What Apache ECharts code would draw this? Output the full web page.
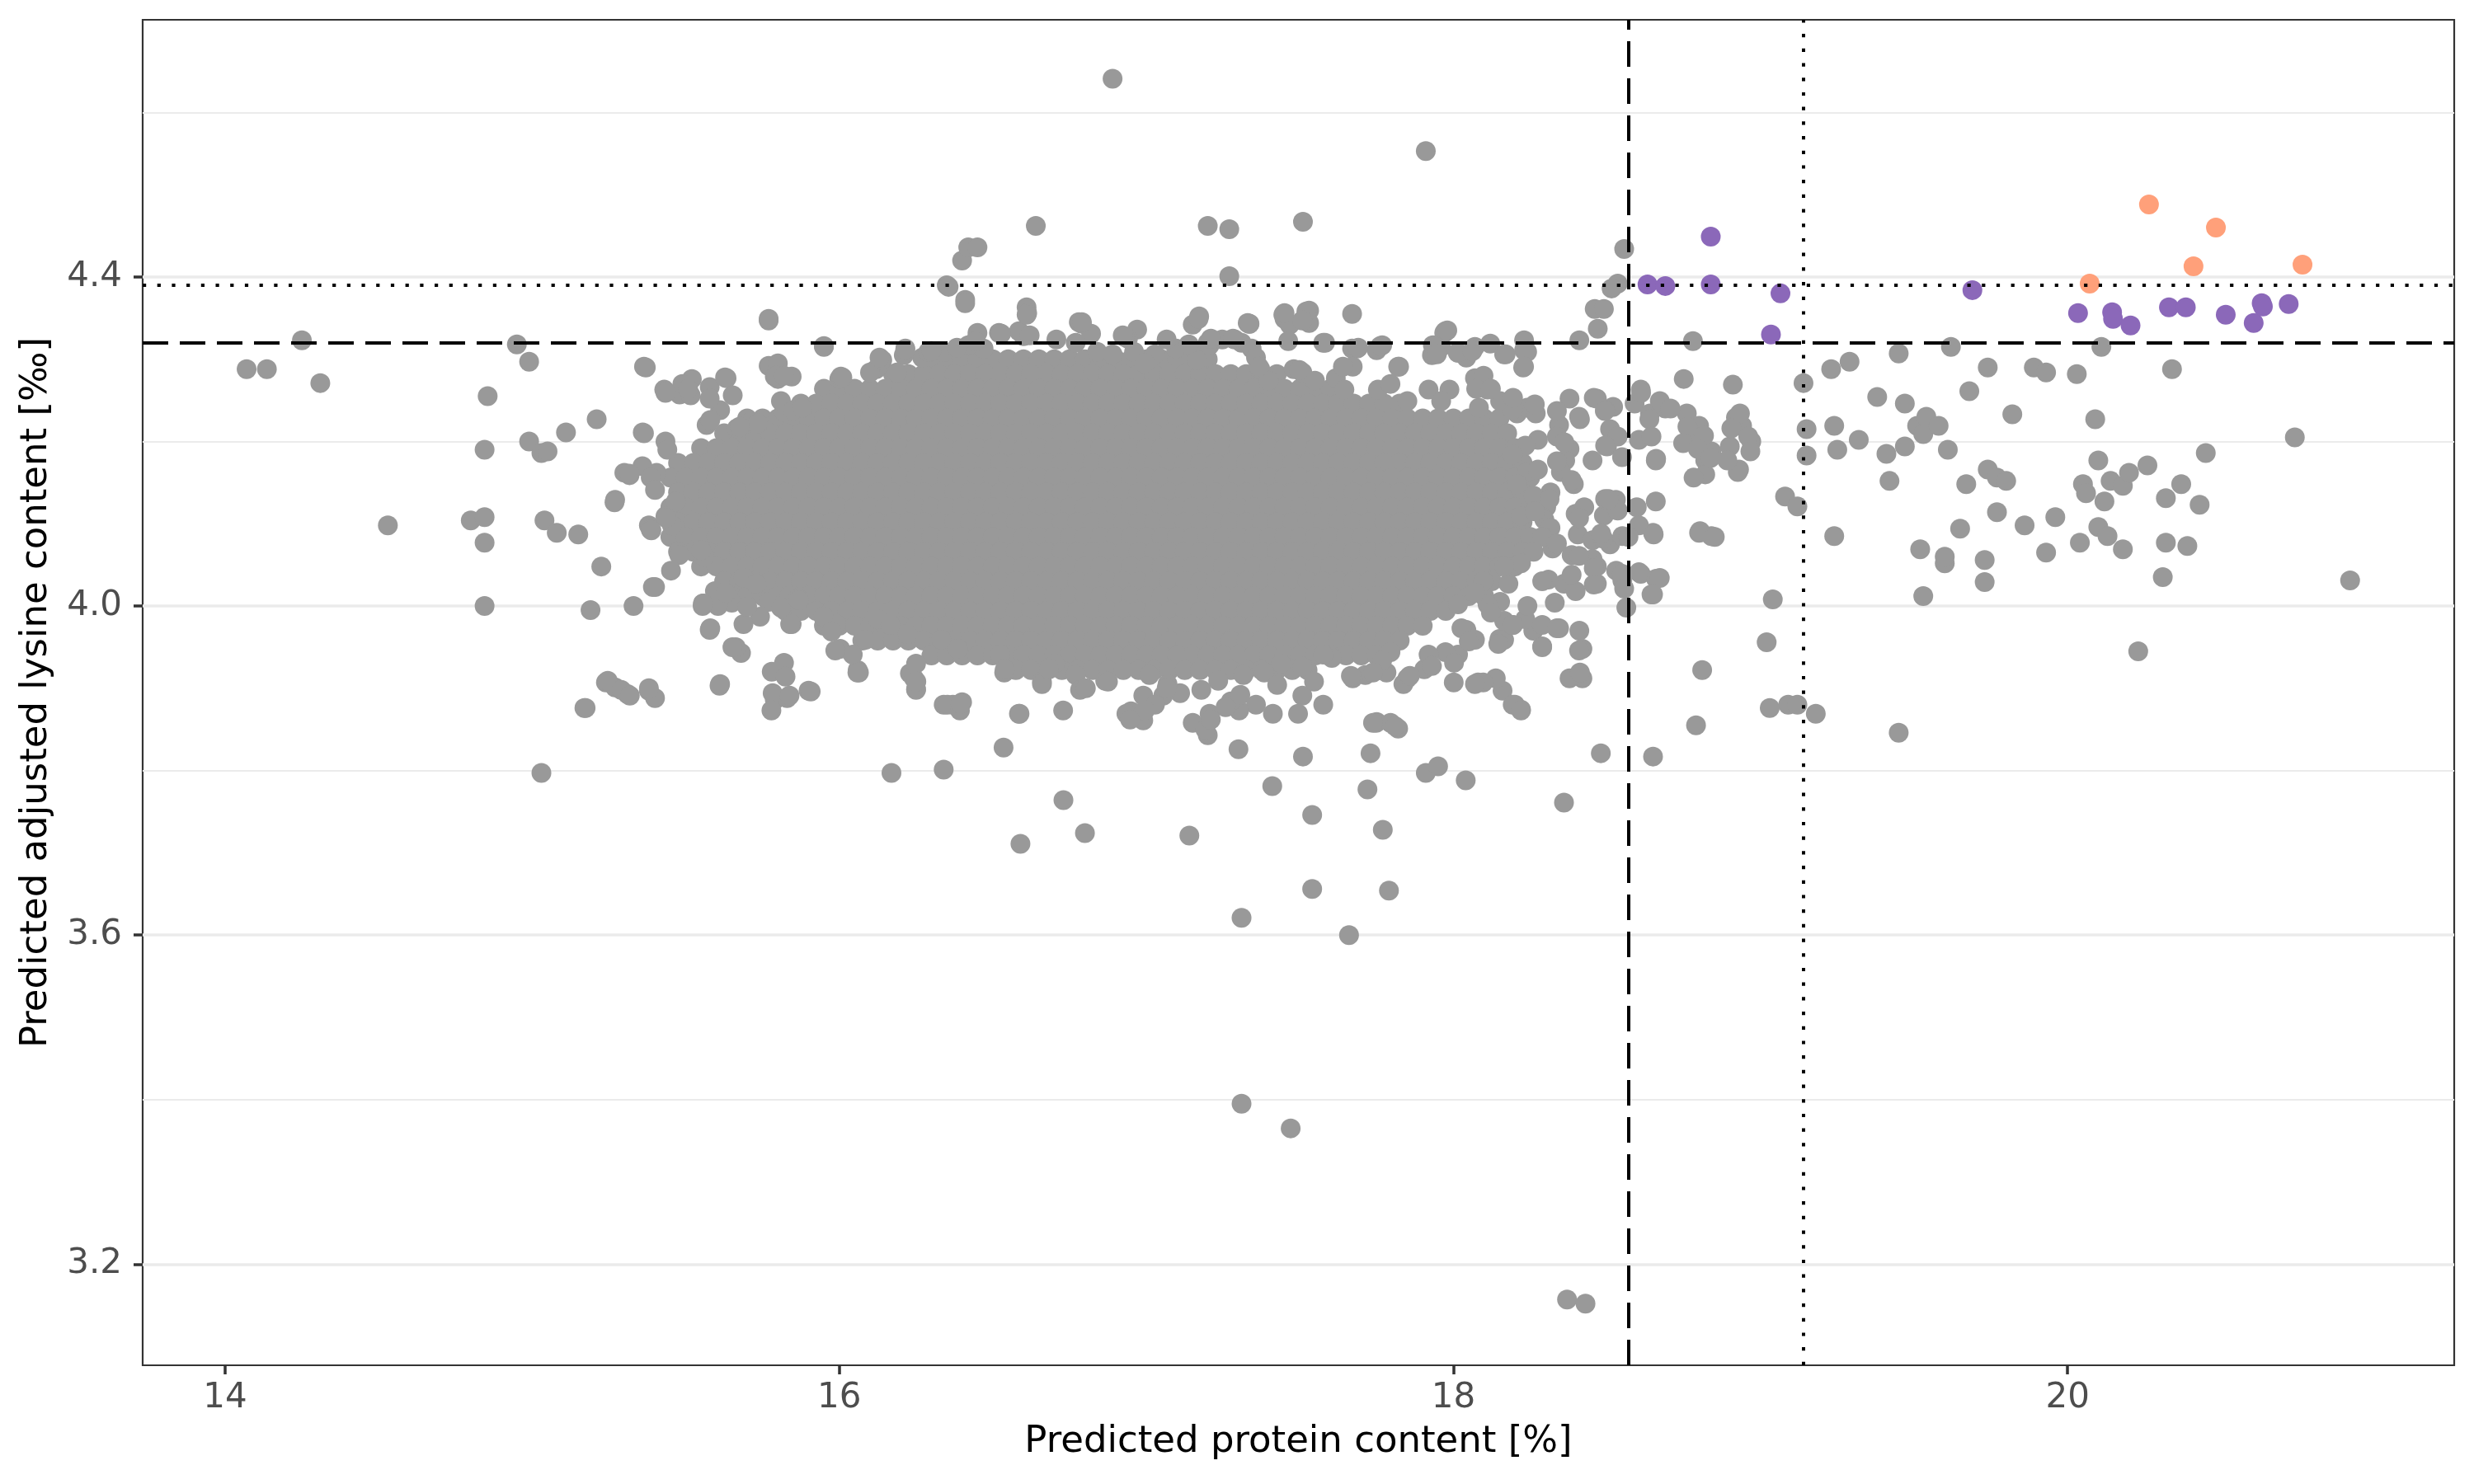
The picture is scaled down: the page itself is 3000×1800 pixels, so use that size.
<!DOCTYPE html>
<html>
<head>
<meta charset="utf-8">
<title>Predicted protein vs lysine</title>
<script src="https://cdn.jsdelivr.net/npm/echarts@6/dist/echarts.min.js"></script>
<style>
html,body{margin:0;padding:0;background:#fff;}
#main{width:3000px;height:1800px;}
</style>
</head>
<body>
<div id="main"></div>
<script>
// axis ranges and ticks
var xMin = 13.7315, xMax = 21.259;
var yMin = 3.077, yMax = 4.7126;
var xTicks = [14, 16, 18, 20];
var yTicks = [3.2, 3.6, 4.0, 4.4];
var yMinor = [3.4, 3.8, 4.2, 4.6];

// threshold lines: [dashed, dotted]
var proteinCut = [18.575, 19.138];
var lysineCut = [4.324, 4.389];

// dense core of the grey cloud, read row by row (y of the row, then x of each point)
var coreY = [4.300, 4.282, 4.264, 4.246, 4.228, 4.210, 4.192, 4.174, 4.156, 4.138, 4.120,
             4.102, 4.084, 4.066, 4.048, 4.030, 4.012, 3.994, 3.976, 3.958, 3.940, 3.922];
var coreX = [
 [16.3,16.35,16.4,16.45,16.5,16.55,16.6,16.65,16.7,16.75,16.8,16.85,16.9,16.95,17,17.05,17.1,17.15,17.2],
 [16.175,16.225,16.275,16.325,16.375,16.425,16.475,16.525,16.575,16.625,16.675,16.725,16.775,16.825,16.875,16.925,16.975,17.025,17.075,17.125,17.175,17.225,17.275,17.325,17.375,17.425],
 [15.95,16,16.05,16.1,16.15,16.2,16.25,16.3,16.35,16.4,16.45,16.5,16.55,16.6,16.65,16.7,16.75,16.8,16.85,16.9,16.95,17,17.05,17.1,17.15,17.2,17.25,17.3,17.35,17.4,17.45,17.5,17.55,17.6],
 [15.875,15.925,15.975,16.025,16.075,16.125,16.175,16.225,16.275,16.325,16.375,16.425,16.475,16.525,16.575,16.625,16.675,16.725,16.775,16.825,16.875,16.925,16.975,17.025,17.075,17.125,17.175,17.225,17.275,17.325,17.375,17.425,17.475,17.525,17.575,17.625,17.675,17.725,17.775,17.825],
 [15.7,15.75,15.8,15.85,15.9,15.95,16,16.05,16.1,16.15,16.2,16.25,16.3,16.35,16.4,16.45,16.5,16.55,16.6,16.65,16.7,16.75,16.8,16.85,16.9,16.95,17,17.05,17.1,17.15,17.2,17.25,17.3,17.35,17.4,17.45,17.5,17.55,17.6,17.65,17.7,17.75,17.8,17.85,17.9,17.95,18,18.05,18.1,18.15],
 [15.625,15.675,15.725,15.775,15.825,15.875,15.925,15.975,16.025,16.075,16.125,16.175,16.225,16.275,16.325,16.375,16.425,16.475,16.525,16.575,16.625,16.675,16.725,16.775,16.825,16.875,16.925,16.975,17.025,17.075,17.125,17.175,17.225,17.275,17.325,17.375,17.425,17.475,17.525,17.575,17.625,17.675,17.725,17.775,17.825,17.875,17.925,17.975,18.025,18.075,18.125,18.175],
 [15.55,15.6,15.65,15.7,15.75,15.8,15.85,15.9,15.95,16,16.05,16.1,16.15,16.2,16.25,16.3,16.35,16.4,16.45,16.5,16.55,16.6,16.65,16.7,16.75,16.8,16.85,16.9,16.95,17,17.05,17.1,17.15,17.2,17.25,17.3,17.35,17.4,17.45,17.5,17.55,17.6,17.65,17.7,17.75,17.8,17.85,17.9,17.95,18,18.05,18.1,18.15,18.2],
 [15.475,15.525,15.575,15.625,15.675,15.725,15.775,15.825,15.875,15.925,15.975,16.025,16.075,16.125,16.175,16.225,16.275,16.325,16.375,16.425,16.475,16.525,16.575,16.625,16.675,16.725,16.775,16.825,16.875,16.925,16.975,17.025,17.075,17.125,17.175,17.225,17.275,17.325,17.375,17.425,17.475,17.525,17.575,17.625,17.675,17.725,17.775,17.825,17.875,17.925,17.975,18.025,18.075,18.125,18.175,18.225],
 [15.45,15.5,15.55,15.6,15.65,15.7,15.75,15.8,15.85,15.9,15.95,16,16.05,16.1,16.15,16.2,16.25,16.3,16.35,16.4,16.45,16.5,16.55,16.6,16.65,16.7,16.75,16.8,16.85,16.9,16.95,17,17.05,17.1,17.15,17.2,17.25,17.3,17.35,17.4,17.45,17.5,17.55,17.6,17.65,17.7,17.75,17.8,17.85,17.9,17.95,18,18.05,18.1,18.15,18.2,18.25],
 [15.475,15.525,15.575,15.625,15.675,15.725,15.775,15.825,15.875,15.925,15.975,16.025,16.075,16.125,16.175,16.225,16.275,16.325,16.375,16.425,16.475,16.525,16.575,16.625,16.675,16.725,16.775,16.825,16.875,16.925,16.975,17.025,17.075,17.125,17.175,17.225,17.275,17.325,17.375,17.425,17.475,17.525,17.575,17.625,17.675,17.725,17.775,17.825,17.875,17.925,17.975,18.025,18.075,18.125,18.175,18.225],
 [15.45,15.5,15.55,15.6,15.65,15.7,15.75,15.8,15.85,15.9,15.95,16,16.05,16.1,16.15,16.2,16.25,16.3,16.35,16.4,16.45,16.5,16.55,16.6,16.65,16.7,16.75,16.8,16.85,16.9,16.95,17,17.05,17.1,17.15,17.2,17.25,17.3,17.35,17.4,17.45,17.5,17.55,17.6,17.65,17.7,17.75,17.8,17.85,17.9,17.95,18,18.05,18.1,18.15,18.2,18.25],
 [15.475,15.525,15.575,15.625,15.675,15.725,15.775,15.825,15.875,15.925,15.975,16.025,16.075,16.125,16.175,16.225,16.275,16.325,16.375,16.425,16.475,16.525,16.575,16.625,16.675,16.725,16.775,16.825,16.875,16.925,16.975,17.025,17.075,17.125,17.175,17.225,17.275,17.325,17.375,17.425,17.475,17.525,17.575,17.625,17.675,17.725,17.775,17.825,17.875,17.925,17.975,18.025,18.075,18.125,18.175,18.225],
 [15.45,15.5,15.55,15.6,15.65,15.7,15.75,15.8,15.85,15.9,15.95,16,16.05,16.1,16.15,16.2,16.25,16.3,16.35,16.4,16.45,16.5,16.55,16.6,16.65,16.7,16.75,16.8,16.85,16.9,16.95,17,17.05,17.1,17.15,17.2,17.25,17.3,17.35,17.4,17.45,17.5,17.55,17.6,17.65,17.7,17.75,17.8,17.85,17.9,17.95,18,18.05,18.1,18.15,18.2,18.25],
 [15.475,15.525,15.575,15.625,15.675,15.725,15.775,15.825,15.875,15.925,15.975,16.025,16.075,16.125,16.175,16.225,16.275,16.325,16.375,16.425,16.475,16.525,16.575,16.625,16.675,16.725,16.775,16.825,16.875,16.925,16.975,17.025,17.075,17.125,17.175,17.225,17.275,17.325,17.375,17.425,17.475,17.525,17.575,17.625,17.675,17.725,17.775,17.825,17.875,17.925,17.975,18.025,18.075,18.125,18.175,18.225],
 [15.55,15.6,15.65,15.7,15.75,15.8,15.85,15.9,15.95,16,16.05,16.1,16.15,16.2,16.25,16.3,16.35,16.4,16.45,16.5,16.55,16.6,16.65,16.7,16.75,16.8,16.85,16.9,16.95,17,17.05,17.1,17.15,17.2,17.25,17.3,17.35,17.4,17.45,17.5,17.55,17.6,17.65,17.7,17.75,17.8,17.85,17.9,17.95,18,18.05,18.1,18.15,18.2],
 [15.625,15.675,15.725,15.775,15.825,15.875,15.925,15.975,16.025,16.075,16.125,16.175,16.225,16.275,16.325,16.375,16.425,16.475,16.525,16.575,16.625,16.675,16.725,16.775,16.825,16.875,16.925,16.975,17.025,17.075,17.125,17.175,17.225,17.275,17.325,17.375,17.425,17.475,17.525,17.575,17.625,17.675,17.725,17.775,17.825,17.875,17.925,17.975,18.025,18.075,18.125],
 [15.65,15.7,15.75,15.8,15.85,15.9,15.95,16,16.05,16.1,16.15,16.2,16.25,16.3,16.35,16.4,16.45,16.5,16.55,16.6,16.65,16.7,16.75,16.8,16.85,16.9,16.95,17,17.05,17.1,17.15,17.2,17.25,17.3,17.35,17.4,17.45,17.5,17.55,17.6,17.65,17.7,17.75,17.8,17.85,17.9,17.95,18,18.05,18.1],
 [15.825,15.875,15.925,15.975,16.025,16.075,16.125,16.175,16.225,16.275,16.325,16.375,16.425,16.475,16.525,16.575,16.625,16.675,16.725,16.775,16.825,16.875,16.925,16.975,17.025,17.075,17.125,17.175,17.225,17.275,17.325,17.375,17.425,17.475,17.525,17.575,17.625,17.675,17.725,17.775,17.825,17.875,17.925,17.975],
 [15.95,16,16.05,16.1,16.15,16.2,16.25,16.3,16.35,16.4,16.45,16.5,16.55,16.6,16.65,16.7,16.75,16.8,16.85,16.9,16.95,17,17.05,17.1,17.15,17.2,17.25,17.3,17.35,17.4,17.45,17.5,17.55,17.6,17.65,17.7,17.75,17.8,17.85,17.9],
 [16.075,16.125,16.175,16.225,16.275,16.325,16.375,16.425,16.475,16.525,16.575,16.625,16.675,16.725,16.775,16.825,16.875,16.925,16.975,17.025,17.075,17.125,17.175,17.225,17.275,17.325,17.375,17.425,17.475,17.525,17.575,17.625,17.675,17.725,17.775,17.825],
 [16.3,16.35,16.4,16.45,16.5,16.55,16.6,16.65,16.7,16.75,16.8,16.85,16.9,16.95,17,17.05,17.1,17.15,17.2,17.25,17.3,17.35,17.4,17.45,17.5,17.55,17.6,17.65,17.7,17.75],
 [16.575,16.625,16.675,16.725,16.775,16.825,16.875,16.925,16.975,17.025,17.075,17.125,17.175,17.225,17.275,17.325,17.375,17.425,17.475,17.525]
];

// scattered grey samples around the cloud [protein %, lysine ‰]
var greyPts = [
 [14.07,4.288],[14.136,4.288],[14.25,4.323],[14.31,4.271],[14.53,4.098],[14.80,4.104],[14.845,4.108],[14.845,4.077],
 [14.845,4.0],[14.845,4.19],[14.855,4.255],[14.95,4.318],[14.99,4.297],[14.99,4.2],[15.03,4.186],[15.05,4.188],
 [15.04,4.104],[15.08,4.089],[15.03,3.797],[15.11,4.211],[15.15,4.087],[15.17,3.876],[15.19,3.995],[15.21,4.227],
 [15.225,4.048],[15.24,3.907],[15.27,3.901],[15.27,4.129],[15.30,4.162],[15.31,3.893],[15.33,4.0],[15.36,4.211],
 [15.37,4.29],[15.38,3.897],[15.40,3.888],[15.40,4.023],[15.38,4.098],[15.405,4.162],[15.43,4.263],[15.48,4.257],
 [15.52,4.276],[15.56,4.06],[15.555,4.0],[15.61,3.903],[15.595,4.018],[15.65,4.004],[15.68,3.943],[15.77,4.347],
 [15.77,4.292],[15.78,3.92],[15.79,3.886],[15.82,3.931],[15.83,3.888],[15.82,4.236],[15.80,4.276],[15.84,3.978],
 [15.90,3.897],[15.95,4.315],[16.0,4.276],[15.99,3.978],[16.06,3.922],[16.12,4.288],[16.17,3.797],[16.23,3.918],
 [16.25,3.899],[16.27,4.302],[16.34,3.88],[16.34,3.801],[16.35,4.39],[16.37,3.88],[16.40,4.42],[16.41,4.372],
 [16.42,4.436],[16.45,4.436],[16.45,4.332],[16.47,4.313],[16.535,3.828],[16.59,3.711],[16.64,4.462],[16.66,3.908],
 [16.73,3.764],[16.80,3.724],[16.79,3.901],[16.89,4.641],[16.95,3.872],[16.99,3.861],[17.14,3.721],[17.20,4.462],
 [17.27,4.458],[17.27,4.401],[17.20,3.843],[17.30,3.826],[17.31,3.621],[17.31,3.395],[17.47,3.365],[17.41,3.781],
 [17.51,3.817],[17.51,4.467],[17.54,3.746],[17.54,3.656],[17.66,3.60],[17.72,3.777],[17.73,3.821],[17.77,3.728],
 [17.79,3.654],[17.75,3.859],[17.82,3.851],[17.91,4.553],[17.91,3.797],[17.95,3.805],[18.04,3.788],[18.08,3.907],
 [18.16,3.897],[18.20,3.88],[18.22,3.874],[18.36,3.761],[18.37,3.157],[18.43,3.152],[18.48,3.821],[18.65,3.817],
 [18.42,3.912],[18.41,3.97],[18.26,3.97],[18.15,3.96],[18.33,4.004],[18.36,4.027],
 [18.556,4.434],[18.535,4.392],[18.515,4.386],[18.46,4.361],[18.49,4.361],[18.47,4.337],[18.41,4.323],[18.23,4.323],
 [18.23,4.311],[18.12,4.319],[17.97,4.332],[17.96,4.315],[17.93,4.305],[17.75,4.311],[17.67,4.313],[17.67,4.355],
 [17.53,4.359],[17.53,4.344],[17.45,4.349],[17.33,4.344],[17.31,4.32],[17.20,4.32],[17.16,4.311],[16.97,4.336],
 [16.94,4.325],[16.78,4.345],[16.61,4.363],[16.60,4.328],[16.52,4.332],[16.21,4.305],
 [18.61,4.263],[18.59,4.246],[18.69,4.24],[18.64,4.234],[18.75,4.276],[18.76,4.234],[18.80,4.219],[18.78,4.204],
 [18.66,4.179],[18.82,4.177],[18.78,4.322],[18.84,4.188],[18.91,4.269],[18.92,4.229],[18.94,4.219],[18.90,4.194],
 [18.97,4.2],[18.93,4.166],[18.82,4.16],[18.52,4.242],[18.51,4.215],[18.50,4.194],[18.51,4.127],[18.49,4.11],
 [18.51,4.075],[18.53,4.043],[18.55,4.031],[18.61,4.039],[18.66,4.033],[18.65,4.014],[18.55,4.085],[18.65,4.089],
 [18.80,4.089],[18.84,4.085],[18.81,3.922],[18.79,3.855],[19.04,4.008],[19.02,3.956],[19.03,3.876],[19.09,3.88],
 [19.12,3.88],[19.18,3.869],[19.45,3.846],[19.08,4.133],[19.12,4.121],[19.15,4.215],[19.15,4.183],[19.14,4.271],
 [19.23,4.288],[19.29,4.297],[19.24,4.219],[19.25,4.19],[19.32,4.202],[19.24,4.085],[19.38,4.254],[19.41,4.185],
 [19.42,4.152],[19.45,4.307],[19.47,4.246],[19.51,4.219],[19.47,4.194],[19.53,4.209],[19.54,4.23],[19.58,4.219],
 [19.62,4.315],[19.61,4.19],[19.52,4.069],[19.53,4.012],[19.60,4.052],[19.60,4.06],[19.65,4.094],[19.67,4.148],
 [19.68,4.261],[19.74,4.29],[19.73,4.029],[19.73,4.056],[19.74,4.166],[19.77,4.156],[19.77,4.114],[19.80,4.152],
 [19.82,4.233],[19.86,4.098],[19.89,4.29],[19.93,4.284],[19.93,4.065],[19.96,4.108],[20.03,4.282],[20.04,4.077],
 [20.05,4.148],[20.06,4.137],[20.09,4.227],[20.10,4.177],[20.10,4.096],[20.11,4.315],[20.12,4.127],[20.13,4.085],
 [20.14,4.152],[20.18,4.146],[20.18,4.069],[20.20,4.162],[20.23,3.945],[20.26,4.171],[20.31,4.035],[20.32,4.131],
 [20.32,4.077],[20.34,4.288],[20.37,4.148],[20.39,4.073],[20.43,4.123],[20.45,4.186],[20.74,4.205],[20.92,4.031],
 [15.434,4.2],[15.44,4.19],[15.434,4.259],[15.489,4.27],[15.516,4.256],[15.578,4.266],[15.633,4.277],[15.653,4.256],
 [15.612,4.238],[15.578,4.252],[15.568,4.22],[15.70,4.222],[15.735,4.222],[15.667,4.216],[15.80,4.295],[15.79,4.279],
 [15.845,4.279],[15.81,4.249],[15.85,4.238],[15.88,4.241],[16.005,4.279],[16.10,4.284],[16.14,4.299],[16.188,4.284],
 [16.215,4.313],[16.29,4.309],[16.34,4.309],[16.42,4.317],[16.356,4.388],[16.612,4.356],[16.585,4.334],[16.62,4.329],
 [16.524,4.331],[16.79,4.343],[16.82,4.331],[16.77,4.32],[16.84,4.309],[16.89,4.306],[16.93,4.327],[16.96,4.309],
 [15.317,4.159],[15.359,4.17],[15.386,4.156],[15.40,4.141],[15.434,4.109],[15.386,4.093],[15.468,4.127],[15.455,4.098],
 [15.479,4.062],[15.452,4.043],[15.393,4.023],[15.55,4.068],[15.557,4.003],[15.605,4.0],[15.63,4.016],[15.688,4.034],
 [15.729,4.027],[15.77,4.005],[15.838,4.012],[15.742,3.987],[15.81,3.998],[15.866,4.009],[15.578,3.971],[15.688,3.978],
 [15.663,3.95],[15.845,3.978],[15.612,3.905],[15.825,3.914],[15.783,3.894],[15.838,3.891],[15.779,3.873],[15.907,3.896],
 [15.246,3.909],[15.29,3.898],[15.318,3.891],[15.38,3.9],[15.174,3.876],
 [15.948,3.987],[15.975,3.969],[16.003,3.948],[16.044,3.941],[16.085,3.959],[16.126,3.984],[16.167,3.977],[16.222,3.966],
 [16.25,3.93],[16.243,3.912],[16.25,3.898],[16.352,3.88],[16.40,3.883],[16.393,3.873],[16.585,3.869],[16.729,3.873],
 [16.66,3.905],[16.702,3.93],[16.77,3.916],[16.784,3.898],[16.866,3.909],[16.524,3.941],[16.537,3.919],[16.386,3.948],
 [16.332,3.959],[16.064,3.919],[16.935,3.869],[16.99,3.891],[17.01,3.916],
 [17.172,4.352],[17.151,4.342],[17.336,4.343],[17.446,4.354],[17.467,4.342],[17.521,4.358],[17.508,4.347],[17.576,4.32],
 [17.686,4.313],[17.768,4.317],[17.823,4.291],[17.974,4.334],[17.933,4.317],[17.946,4.306],[18.015,4.308],[18.07,4.315],
 [18.042,4.302],[18.165,4.306],[18.24,4.309],[18.227,4.29],[18.611,4.259],[18.672,4.249],[18.707,4.24],[18.638,4.227],
 [18.762,4.218],[18.816,4.207],[18.748,4.198],[18.796,4.191],[18.837,4.18],[18.782,4.156],[18.933,4.234],[18.905,4.216],
 [18.96,4.206],[18.967,4.188],[18.926,4.163],[18.892,4.177],[18.535,4.206],[18.549,4.181],[18.453,4.177],[18.494,4.195],
 [18.604,4.202],[18.645,4.206],[18.659,4.177],[18.378,4.252],[18.467,4.252],[18.494,4.238],[18.412,4.227],[18.344,4.22],
 [18.337,4.206],[18.378,4.191],[18.364,4.177],[18.35,4.163],[18.392,4.148],[18.24,4.241],[18.268,4.234],[18.207,4.234],
 [18.275,4.202],[18.234,4.195],[18.24,4.163],[18.275,4.166],[18.529,4.129],[18.494,4.13],[18.535,4.116],[18.597,4.12],
 [18.659,4.127],[18.604,4.098],[18.652,4.087],[18.57,4.084],[18.398,4.112],[18.426,4.12],[18.405,4.087],[18.453,4.08],
 [18.487,4.082],[18.385,4.062],[18.453,4.057],[18.467,4.048],[18.316,4.138],[18.302,4.12],[18.296,4.105],[18.316,4.095],
 [18.323,4.07],[18.549,4.039],[18.604,4.041],[18.672,4.034],[18.645,4.014],[18.556,4.021],[18.563,3.998],[18.309,4.032],
 [18.398,4.018],[18.467,4.027],[18.803,4.091],[18.851,4.084],[18.42,3.948],[18.378,3.912],[18.412,3.919],[18.193,3.88],
 [18.22,3.873],[18.165,3.959],[18.289,3.951],[18.344,3.973],[18.234,3.984],[18.193,3.977],[18.165,3.982],[18.07,3.959],
 [18.042,3.971],[18.138,3.912],[18.097,3.907],[18.07,3.905],[18.001,3.907],[17.905,3.923],[17.85,3.912],[17.837,3.905],
 [17.782,3.919],[17.713,3.916],[17.672,3.912],[17.748,3.858],[17.795,3.858],[18.015,3.941],[17.974,3.944],[17.919,3.941],
 [17.795,3.944],[17.768,3.934],[17.604,3.937],[17.576,3.941],[17.508,3.926],[17.439,3.93],[17.384,3.919],[17.316,3.916],
 [17.234,3.909],[17.179,3.898],[17.11,3.894],[17.055,3.891],[17.576,3.88],[17.508,3.891],[17.412,3.869],[17.357,3.88],
 [17.302,3.873],[17.275,3.884],[17.206,3.869],[17.151,3.858],[17.494,3.869],[17.192,3.85],[17.028,3.88],[17.069,3.905],
 [18.152,4.005],[18.111,4.002],[18.179,4.027],[18.193,4.184],[18.207,4.148],[18.261,4.134],[18.22,4.109],[18.289,4.084],
 [18.261,4.066],[18.22,4.052],[18.165,4.048],[18.097,4.03],[18.07,4.016],[18.015,4.002],
 [17.028,4.306],[17.097,4.313],[17.165,4.299],[17.206,4.317],[17.247,4.324],[17.288,4.324],[17.343,4.313],[17.357,4.302],
 [17.371,4.288],[17.398,4.274],[17.48,4.288],[17.508,4.284],[17.549,4.274],[17.617,4.277],[17.672,4.291],[17.645,4.263],
 [17.754,4.263],[17.795,4.27],[17.85,4.249],[17.919,4.263],[17.987,4.263],[17.96,4.249],[18.07,4.277],[18.111,4.263],
 [18.083,4.241],[18.152,4.249],[18.193,4.238],
 [15.77,4.349],[16.41,4.368],[16.61,4.354],[16.79,4.345],[17.17,4.349],[17.335,4.343],[17.45,4.356],[17.98,4.335],
 [15.95,4.316],[16.215,4.312],[16.30,4.310],[16.383,4.314],[16.443,4.322],[16.527,4.331],[16.707,4.324],[16.923,4.329],
 [17.066,4.324],[17.138,4.318],[17.21,4.325],[17.282,4.325],[17.462,4.322],[17.582,4.32],[17.69,4.314],[17.762,4.316],
 [18.014,4.308],[18.062,4.31],[18.17,4.306],[17.82,4.291],[18.23,4.291],[17.64,4.291],[17.498,4.287],[17.366,4.291],
 [16.995,4.295],[16.131,4.302],[16.01,4.278],[15.795,4.28],[15.364,4.291],[15.628,4.278],[18.098,4.28],[18.074,4.264],
 [18.122,4.264],[18.265,4.245],[18.194,4.253],[18.337,4.237],[18.409,4.23],[18.361,4.199],[18.457,4.253],[18.493,4.237],
 [18.337,4.176],[18.385,4.153],[18.313,4.13],[18.409,4.107],[18.265,4.115],[18.337,4.076],[18.481,4.088],[18.505,4.13],
 [18.409,4.061],[18.457,4.046],[18.385,4.038],[18.457,4.026],[18.289,4.03],[18.241,4.0],[18.122,3.992],[18.194,3.977],
 [18.289,3.977],[18.337,3.973],[18.146,3.954],[18.289,3.95],[18.409,3.946],[18.026,3.973],[18.05,3.957],[18.002,3.931],
 [17.93,3.927],[17.858,3.915],[17.738,3.919],[17.666,3.915],[17.546,3.908],[17.426,3.904],[17.306,3.892],[17.258,3.877],
 [17.21,3.862],[17.066,3.9],[16.995,3.873],[16.947,3.862],[16.875,3.908],[16.803,3.9],[16.683,3.923],[16.587,3.869],
 [16.539,3.923],[16.395,3.881],[16.251,3.908],[16.059,3.919],[15.987,3.946],[15.652,3.95],[15.58,3.973],[15.556,4.003],
 [15.7,3.999],[15.867,4.007],[15.436,4.107],[15.388,4.092],[15.316,4.161],[15.268,4.126],[15.364,4.21],[15.436,4.26],
 [15.508,4.264],[15.58,4.226],[15.676,4.218],[15.82,4.28],[17.738,3.858],[17.81,3.854]
];

// highlighted samples
var purplePts = [
 [18.632,4.391],[18.69,4.389],[18.838,4.449],[18.838,4.391],[19.065,4.38],[19.034,4.33],[19.69,4.384],
 [20.034,4.356],[20.145,4.357],[20.148,4.349],[20.205,4.341],[20.33,4.363],[20.385,4.363],[20.515,4.354],
 [20.606,4.344],[20.632,4.368],[20.636,4.364],[20.72,4.367]
];
var orangePts = [[20.072,4.392],[20.265,4.488],[20.41,4.413],[20.483,4.46],[20.765,4.415]];

(function(){
    var font = 'DejaVu Sans';

    // grey cloud: core rows plus scattered points
    var grey = [];
    coreX.forEach(function(row, i){
        row.forEach(function(x){ grey.push([x, coreY[i]]); });
    });
    greyPts.forEach(function(p){ grey.push(p); });

    var gridLines = [];
    yTicks.forEach(function(v){ gridLines.push({yAxis: v, lineStyle: {color: '#ebebeb', width: 3.6, type: 'solid'}}); });
    yMinor.forEach(function(v){ gridLines.push({yAxis: v, lineStyle: {color: '#ebebeb', width: 1.8, type: 'solid'}}); });

    var dashed = {color: '#000', width: 4, type: [31, 14], cap: 'butt'};
    var dotted = {color: '#000', width: 4, type: [4.2, 13.5], cap: 'butt'};

    var myChart = echarts.init(document.getElementById('main'));
    var option = {
        animation: false,
        textStyle: {fontFamily: font},
        grid: {left: 173, right: 24, top: 24, bottom: 144, show: true,
               borderColor: '#333333', borderWidth: 2.2, backgroundColor: '#ffffff'},
        xAxis: {
            type: 'value', min: xMin, max: xMax,
            name: 'Predicted protein content [%]', nameLocation: 'middle', nameGap: 71,
            nameTextStyle: {fontSize: 45, color: '#000000', fontFamily: font},
            axisLine: {show: false},
            axisTick: {show: true, customValues: xTicks, length: 11, lineStyle: {color: '#333333', width: 3.5}},
            axisLabel: {customValues: xTicks, fontSize: 42, color: '#4d4d4d', margin: 19, fontFamily: font},
            splitLine: {show: false}
        },
        yAxis: {
            type: 'value', min: yMin, max: yMax,
            name: 'Predicted adjusted lysine content [‰]', nameLocation: 'middle', nameGap: 106, nameRotate: 90,
            nameTextStyle: {fontSize: 45, color: '#000000', fontFamily: font},
            axisLine: {show: false},
            axisTick: {show: true, customValues: yTicks, length: 11, lineStyle: {color: '#333333', width: 3.5}},
            axisLabel: {customValues: yTicks, fontSize: 42, color: '#4d4d4d', margin: 25, fontFamily: font,
                        formatter: function(v){ return v.toFixed(1); }},
            splitLine: {show: false}
        },
        series: [
            {type: 'scatter', data: [], z: 1, silent: true,
             markLine: {z: 1, silent: true, symbol: ['none', 'none'], label: {show: false}, animation: false, data: gridLines}},
            {type: 'scatter', data: grey, z: 2, symbolSize: 24, progressive: 0,
             itemStyle: {color: '#999999', opacity: 1}},
            {type: 'scatter', data: purplePts, z: 3, symbolSize: 24, itemStyle: {color: '#8b68b9', opacity: 1}},
            {type: 'scatter', data: orangePts, z: 4, symbolSize: 24, itemStyle: {color: '#ffa07a', opacity: 1}},
            {type: 'scatter', data: [], z: 10, silent: true,
             markLine: {z: 10, silent: true, symbol: ['none', 'none'], label: {show: false}, animation: false, data: [
                 {xAxis: proteinCut[0], lineStyle: dashed},
                 {xAxis: proteinCut[1], lineStyle: dotted},
                 {yAxis: lysineCut[0], lineStyle: dashed},
                 {yAxis: lysineCut[1], lineStyle: dotted}
             ]}}
        ]
    };
    myChart.setOption(option);
})();
</script>
</body>
</html>
